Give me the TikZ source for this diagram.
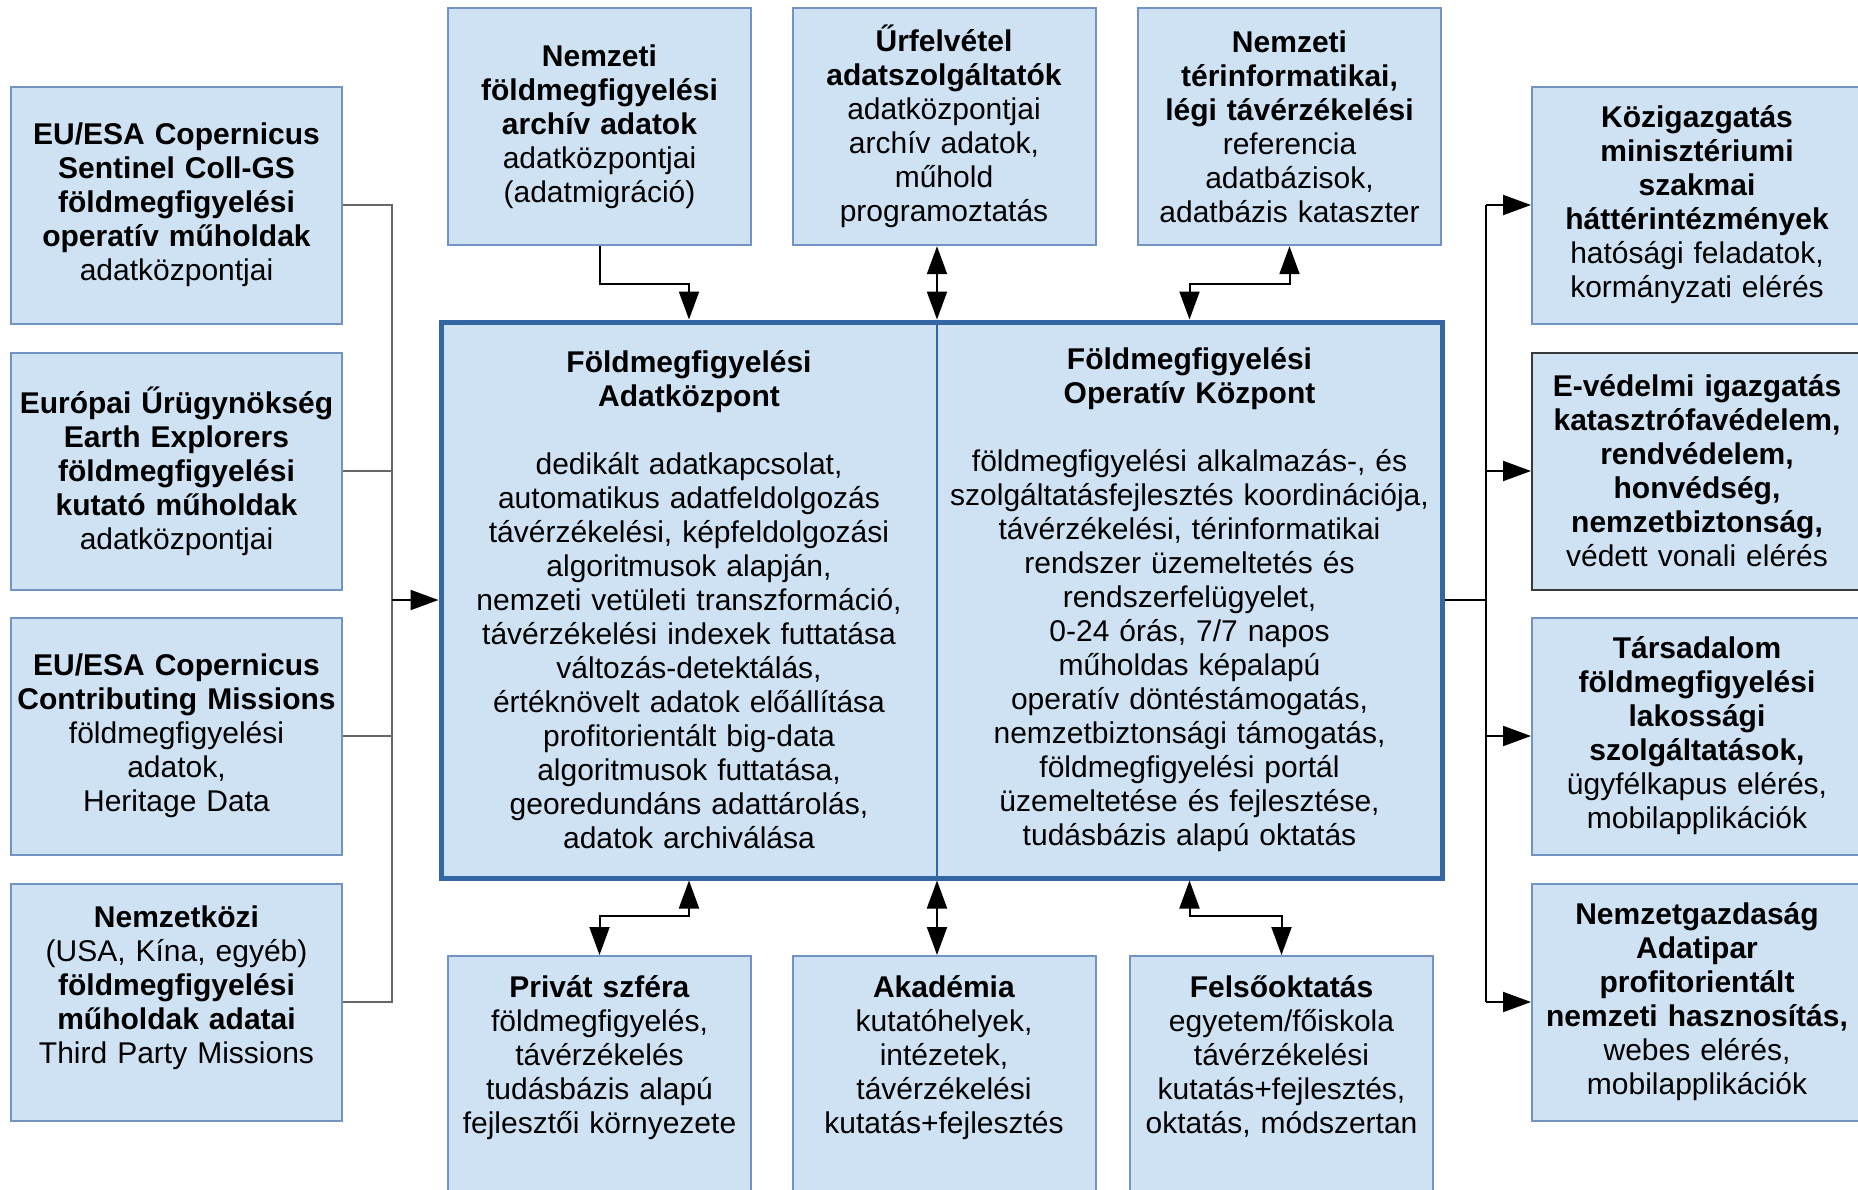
\documentclass[tikz,border=0pt]{standalone}
\usepackage{fontspec}
\setmainfont{Liberation Sans}
\usetikzlibrary{arrows.meta}
\definecolor{boxfill}{HTML}{CFE2F3}
\definecolor{boxline}{HTML}{7393C4}
\definecolor{mainline}{HTML}{3465A4}
\definecolor{darkline}{HTML}{3A3A3A}
\definecolor{leftline}{HTML}{666666}
\begin{document}
\begin{tikzpicture}[x=0.5pt,y=-0.5pt,
  every node/.style={font=\fontsize{15}{17}\selectfont, text=black},
  >={Triangle[length=14pt,width=10pt]},
  box/.style={draw=boxline, line width=1pt, fill=boxfill, inner sep=0pt, align=center},
  sidebox/.style={box, text width=165.5pt, minimum height=118.5pt},
  topbox/.style={box, text width=151.5pt, minimum height=118.5pt},
  botbox/.style={box, text width=151.5pt, minimum height=122pt},
  rightbox/.style={box, text width=165pt, minimum height=118.5pt},
  mainbox/.style={draw=mainline, line width=2.5pt, fill=boxfill, inner sep=0pt, minimum width=500.5pt, minimum height=278pt},
  coltext/.style={inner sep=0pt, align=center, text width=246pt},
  bottext/.style={inner sep=0pt, align=center, text width=151.5pt, anchor=north},
  conn/.style={line width=1pt, draw=black},
  lconn/.style={line width=1pt, draw=leftline}
]
\useasboundingbox (0,0) rectangle (1858,1189);
\clip (0,0) rectangle (1858,1189);

% left boxes
\node[sidebox] (L1) at (176.5,205) {\textbf{EU/ESA Copernicus\\Sentinel Coll-GS\\földmegfigyelési\\operatív műholdak}\\adatközpontjai};
\node[sidebox] (L2) at (176.5,471) {\textbf{Európai Űrügynökség\\Earth Explorers\\földmegfigyelési\\kutató műholdak}\\adatközpontjai};
\node[sidebox] (L3) at (176.5,736) {\textbf{EU/ESA Copernicus\\Contributing Missions}\\földmegfigyelési\\adatok,\\Heritage Data};
\node[sidebox] (L4) at (176.5,1002) {\textbf{Nemzetközi}\\(USA, Kína, egyéb)\\\textbf{földmegfigyelési\\műholdak adatai}\\Third Party Missions\\\mbox{}};

% top boxes
\node[topbox] (T1) at (599.5,126.7) {\textbf{Nemzeti\\földmegfigyelési\\archív adatok}\\adatközpontjai\\(adatmigráció)};
\node[topbox] (T2) at (944,126.7) {\textbf{Űrfelvétel\\adatszolgáltatók}\\adatközpontjai\\archív adatok,\\műhold\\programoztatás};
\node[topbox] (T3) at (1289.5,126.7) {\textbf{Nemzeti\\térinformatikai,\\légi távérzékelési}\\referencia\\adatbázisok,\\adatbázis kataszter};

% centre box
\node[mainbox] (C) at (941.5,600) {};
\coordinate (div) at (937,600);
\draw[draw=mainline, line width=0.6pt] (C.north -| div) -- (C.south -| div);
\node[coltext] (CL) at (689,600) {\textbf{Földmegfigyelési\\Adatközpont}\\[17pt]dedikált adatkapcsolat,\\automatikus adatfeldolgozás\\távérzékelési, képfeldolgozási\\algoritmusok alapján,\\nemzeti vetületi transzformáció,\\távérzékelési indexek futtatása\\változás-detektálás,\\értéknövelt adatok előállítása\\profitorientált big-data\\algoritmusok futtatása,\\georedundáns adattárolás,\\adatok archiválása};
\node[coltext] (CR) at (1189.5,600) {\textbf{Földmegfigyelési\\Operatív Központ}\\[17pt]földmegfigyelési alkalmazás-, és\\szolgáltatásfejlesztés koordinációja,\\távérzékelési, térinformatikai\\rendszer üzemeltetés és\\rendszerfelügyelet,\\0-24 órás, 7/7 napos\\műholdas képalapú\\operatív döntéstámogatás,\\nemzetbiztonsági támogatás,\\földmegfigyelési portál\\üzemeltetése és fejlesztése,\\tudásbázis alapú oktatás};

% bottom boxes
\node[botbox] (B1) at (599.5,1078) {};
\node[botbox] (B2) at (944,1078) {};
\node[botbox] (B3) at (1281.5,1078) {};
\node[bottext] (B1t) at (599.5,975) {\textbf{Privát szféra}\\földmegfigyelés,\\távérzékelés\\tudásbázis alapú\\fejlesztői környezete};
\node[bottext] (B2t) at (944,975) {\textbf{Akadémia}\\kutatóhelyek,\\intézetek,\\távérzékelési\\kutatás+fejlesztés};
\node[bottext] (B3t) at (1281.5,975) {\textbf{Felsőoktatás}\\egyetem/főiskola\\távérzékelési\\kutatás+fejlesztés,\\oktatás, módszertan};

% right boxes
\node[rightbox] (R1) at (1697,205) {\textbf{Közigazgatás\\minisztériumi\\szakmai\\háttérintézmények}\\hatósági feladatok,\\kormányzati elérés};
\node[rightbox, draw=darkline] (R2) at (1697,471) {\textbf{E-védelmi igazgatás\\katasztrófavédelem,\\rendvédelem,\\honvédség,\\nemzetbiztonság,}\\védett vonali elérés};
\node[rightbox] (R3) at (1697,736) {\textbf{Társadalom\\földmegfigyelési\\lakossági\\szolgáltatások,}\\ügyfélkapus elérés,\\mobilapplikációk};
\node[rightbox] (R4) at (1697,1002) {\textbf{Nemzetgazdaság\\Adatipar\\profitorientált\\nemzeti hasznosítás,}\\webes elérés,\\mobilapplikációk};

% left bus
\coordinate (lbus) at (392,600);
\draw[lconn] (L1.east) -- (L1.east -| lbus) -- (L4.east -| lbus) -- (L4.east);
\draw[lconn] (L2.east) -- (L2.east -| lbus);
\draw[lconn] (L3.east) -- (L3.east -| lbus);
\draw[conn,->] (lbus) -- (C.west);

% right bus
\coordinate (rbus) at (1486,600);
\draw[conn] (C.east) -- (rbus);
\draw[conn] (R1.west -| rbus) -- (R4.west -| rbus);
\draw[conn,->] (R1.west -| rbus) -- (R1.west);
\draw[conn,->] (R2.west -| rbus) -- (R2.west);
\draw[conn,->] (R3.west -| rbus) -- (R3.west);
\draw[conn,->] (R4.west -| rbus) -- (R4.west);

% top connectors
\coordinate (etop) at (0,284);
\draw[conn,->] (T1.south) -- (T1.south |- etop) -| (CL |- C.north);
\draw[conn,<->] (T2.south -| div) -- (C.north -| div);
\draw[conn,<->] (CR |- C.north) -- (CR |- etop) -| (T3.south);

% bottom connectors
\coordinate (ebot) at (0,916);
\draw[conn,<->] (CL |- C.south) -- (CL |- ebot) -| (B1.north);
\draw[conn,<->] (C.south -| div) -- (B2.north -| div);
\draw[conn,<->] (CR |- C.south) -- (CR |- ebot) -| (B3.north);
\end{tikzpicture}
\end{document}
